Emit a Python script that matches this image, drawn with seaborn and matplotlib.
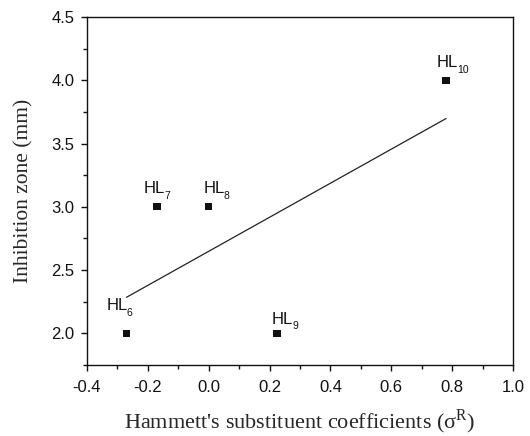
import numpy as np
import pandas as pd
import matplotlib
matplotlib.use("Agg")
import matplotlib.pyplot as plt
from matplotlib.ticker import MultipleLocator
import seaborn as sns

# Hammett resonance constants and inhibition zones of the complexes
compounds = ["6", "7", "8", "9", "10"]
sigma_r = [-0.27, -0.17, 0.00, 0.225, 0.78]
zone_mm = [2.0, 3.0, 3.0, 2.0, 4.0]
# label offsets (points) relative to each marker
label_dx = [-14.5, -9.5, -3.8, -3.8, -6.8]
label_dy = [16.5, 10, 10, 7, 9.5]

df = pd.DataFrame({"sigma": sigma_r, "zone": zone_mm, "cpd": compounds})

sns.set_style("ticks")
plt.rcParams["font.family"] = ["Liberation Sans", "DejaVu Sans"]
plt.rcParams["mathtext.fontset"] = "custom"
plt.rcParams["mathtext.rm"] = "Liberation Serif"
plt.rcParams["mathtext.sf"] = "Liberation Sans"

fig, ax = plt.subplots(figsize=(5.3, 4.36), dpi=100)
fig.subplots_adjust(left=0.164, right=0.968, top=0.961, bottom=0.163)

sns.scatterplot(data=df, x="sigma", y="zone", marker="s", s=28,
                color="#111111", edgecolor="none", ax=ax, zorder=3)
sns.regplot(data=df, x="sigma", y="zone", scatter=False, ci=None,
            truncate=True, color="#222222", line_kws={"lw": 0.9}, ax=ax)

# compound labels: "HL" with a lowered numeric subscript
for x, y, c, dx, dy in zip(sigma_r, zone_mm, compounds, label_dx, label_dy):
    hl = ax.annotate("HL", (x, y), xytext=(dx, dy),
                     textcoords="offset points", ha="left", va="baseline",
                     fontsize=12, color="#111111")
    ax.annotate(c, xy=(1, 0), xycoords=hl, xytext=(-0.6, -3.4),
                textcoords="offset points", ha="left", va="bottom",
                fontsize=7.5, color="#111111")

ax.set_xlim(-0.4, 1.0)
ax.set_ylim(1.75, 4.5)
ax.xaxis.set_major_locator(MultipleLocator(0.2))
ax.xaxis.set_minor_locator(MultipleLocator(0.1))
ax.yaxis.set_major_locator(MultipleLocator(0.5))
ax.yaxis.set_minor_locator(MultipleLocator(0.25))
ax.set_xticklabels([f"{v:.1f}" for v in ax.get_xticks()])
ax.set_yticklabels([f"{v:.1f}" for v in ax.get_yticks()])
ax.set_xlim(-0.4, 1.0)
ax.set_ylim(1.75, 4.5)

ax.tick_params(which="major", direction="out", length=4.5, width=1,
               colors="#111111", labelsize=12)
ax.tick_params(axis="x", which="major", pad=6)
ax.tick_params(axis="y", which="major", pad=4.5)
ax.tick_params(which="minor", direction="out", length=2.8, width=1,
               colors="#111111")
for side in ["top", "right", "left", "bottom"]:
    ax.spines[side].set_visible(True)
    ax.spines[side].set_color("#111111")
    ax.spines[side].set_linewidth(1)

ax.set_xlabel(r"Hammett's substituent coefficients (σ$^{\mathrm{R}}$)",
              family="Liberation Serif", fontsize=16, labelpad=9)
ax.set_ylabel("Inhibition zone (mm)", family="Liberation Serif",
              fontsize=15.5, labelpad=13)

fig.savefig("out.png", dpi=100, facecolor="white")
